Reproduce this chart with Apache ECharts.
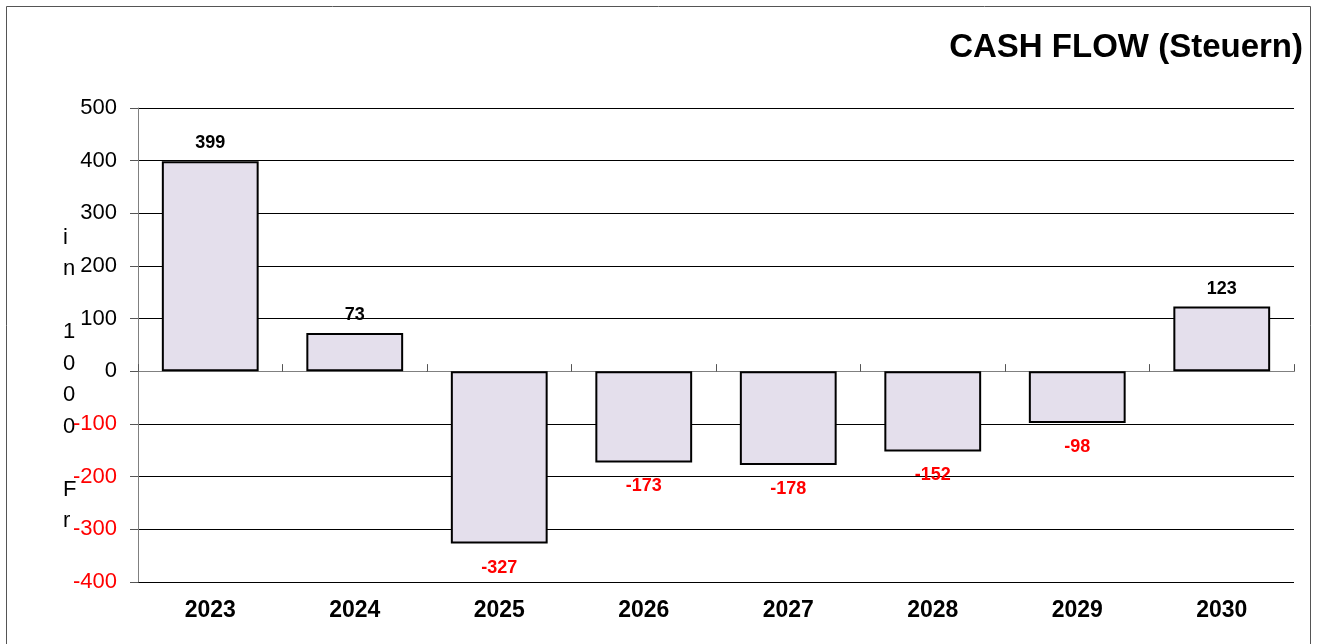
<!DOCTYPE html>
<html>
<head>
<meta charset="utf-8">
<script src="https://cdn.jsdelivr.net/npm/echarts@6/dist/echarts.min.js"></script>
<style>
  html, body { margin: 0; padding: 0; background: #fff; }
  #chart { width: 1317px; height: 644px; }
</style>
</head>
<body>
<div id="chart"></div>
<script>
// Jahre und Werte (in 1000 Fr)
const years = ['2023', '2024', '2025', '2026', '2027', '2028', '2029', '2030'];
const cashFlow = [399, 73, -327, -173, -178, -152, -98, 123];
const yTicks = { min: -400, max: 500, interval: 100 };

const chart = echarts.init(document.getElementById('chart'));
const font = '"Liberation Sans", Arial, sans-serif';

const gridTop = 108, gridBottom = 62;
const plotHeight = 644 - gridTop - gridBottom;
// abstand der nulllinie vom unteren rand (fuer die oberen tick-striche)
const zeroOffset = plotHeight * (0 - yTicks.min) / (yTicks.max - yTicks.min);

const barData = cashFlow.map(v => ({
  value: v,
  label: {
    position: v >= 0 ? 'top' : 'bottom',
    distance: v >= 0 ? 9 : 15,
    color: v >= 0 ? '#000' : '#ff0000'
  }
}));

const option = {
  animation: false,
  title: {
    text: 'CASH FLOW (Steuern)',
    right: 9,
    top: 26,
    textStyle: { fontFamily: font, fontSize: 33, fontWeight: 'bold', color: '#000' }
  },
  graphic: [
    {
      type: 'rect',
      shape: { x: 6.5, y: 6.5, width: 1304, height: 660 },
      style: { fill: 'none', stroke: '#555', lineWidth: 1 },
      silent: true
    },
    {
      type: 'text',
      left: 63,
      top: 222,
      style: {
        text: 'i\nn\n\n1\n0\n0\n0\n\nF\nr',
        font: '22px "Liberation Sans", Arial, sans-serif',
        lineHeight: 31.5,
        fill: '#000',
        align: 'center'
      },
      silent: true
    }
  ],
  grid: { left: 138, right: 23, top: gridTop, bottom: gridBottom },
  xAxis: [
    {
      type: 'category',
      data: years,
      position: 'bottom',
      axisLine: { show: false, onZero: false },
      axisTick: { show: false },
      axisLabel: { fontFamily: font, fontSize: 23, fontWeight: 'bold', color: '#000', margin: 17 }
    },
    {
      type: 'category',
      data: years,
      axisLine: { show: true, onZero: true, lineStyle: { color: '#808080', width: 1 } },
      axisTick: { show: true, length: 7, lineStyle: { color: '#555' } },
      axisLabel: { show: false }
    },
    {
      type: 'category',
      data: years,
      position: 'bottom',
      offset: -zeroOffset,
      axisLine: { show: false, onZero: false },
      axisTick: { show: true, inside: true, length: 7, lineStyle: { color: '#555' } },
      axisLabel: { show: false }
    }
  ],
  yAxis: {
    type: 'value',
    min: yTicks.min,
    max: yTicks.max,
    interval: yTicks.interval,
    axisLine: { show: true, lineStyle: { color: '#808080' } },
    axisTick: { show: true, length: 8, lineStyle: { color: '#555' } },
    splitLine: { show: true, lineStyle: { color: '#000', width: 1 } },
    axisLabel: {
      fontFamily: font,
      fontSize: 22,
      margin: 21,
      color: v => (Number(v) < 0 ? '#ff0000' : '#000')
    }
  },
  series: [
    {
      type: 'bar',
      xAxisIndex: 0,
      data: barData,
      barWidth: '67%',
      itemStyle: { color: '#e4dfec', borderColor: '#000', borderWidth: 2 },
      label: {
        show: true,
        fontFamily: font,
        fontSize: 18,
        fontWeight: 'bold'
      }
    }
  ]
};

chart.setOption(option);
</script>
</body>
</html>
